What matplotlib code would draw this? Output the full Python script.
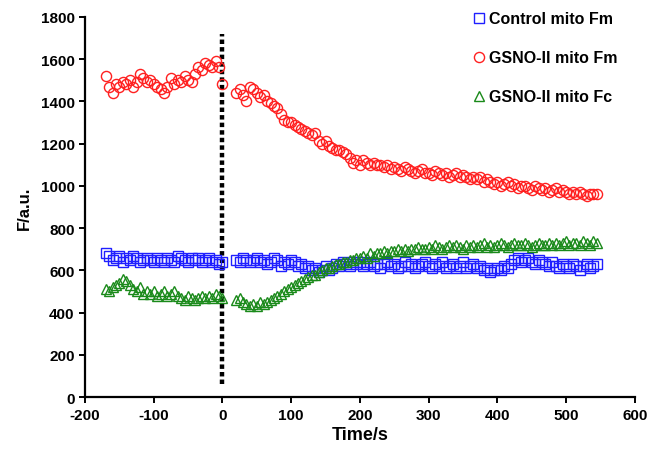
import numpy as np
import matplotlib
matplotlib.use('Agg')
import matplotlib.pyplot as plt

plt.rcParams['font.family'] = ['Liberation Sans', 'DejaVu Sans']
plt.rcParams['font.weight'] = 'bold'
plt.rcParams['axes.unicode_minus'] = False

# time (s), before and after addition at t=0
time_pre = [-170, -165, -160, -155, -150, -145, -140, -135, -130, -125,
            -120, -115, -110, -105, -100, -95, -90, -85, -80, -75,
            -70, -65, -60, -55, -50, -45, -40, -35, -30, -25,
            -20, -15, -10, -5, 0]
time_post = [20, 25, 30, 35, 40, 45, 50, 55, 60, 65,
             70, 75, 80, 85, 90, 95, 100, 105, 110, 115,
             120, 125, 130, 135, 140, 145, 150, 155, 160, 165,
             170, 175, 180, 185, 190, 195, 200, 205, 210, 215,
             220, 225, 230, 235, 240, 245, 250, 255, 260, 265,
             270, 275, 280, 285, 290, 295, 300, 305, 310, 315,
             320, 325, 330, 335, 340, 345, 350, 355, 360, 365,
             370, 375, 380, 385, 390, 395, 400, 405, 410, 415,
             420, 425, 430, 435, 440, 445, 450, 455, 460, 465,
             470, 475, 480, 485, 490, 495, 500, 505, 510, 515,
             520, 525, 530, 535, 540, 545]

ctrl_pre = [680, 670, 650, 660, 670, 640, 660, 650, 670, 660,
            640, 650, 660, 650, 640, 660, 650, 640, 660, 650,
            640, 670, 660, 650, 640, 660, 650, 660, 640, 650,
            660, 640, 650, 630, 640]
ctrl_post = [650, 640, 660, 650, 640, 650, 660, 640, 650, 630,
             640, 660, 650, 620, 640, 630, 650, 640, 620, 630,
             610, 620, 600, 610, 590, 600, 620, 600, 610, 630,
             620, 640, 630, 620, 640, 630, 640, 620, 630, 640,
             620, 630, 610, 630, 640, 620, 630, 610, 620, 640,
             620, 630, 610, 620, 630, 640, 620, 610, 630, 620,
             640, 610, 620, 630, 610, 620, 640, 610, 620, 630,
             610, 620, 600, 610, 590, 600, 610, 600, 620, 610,
             630, 650, 660, 640, 650, 660, 640, 630, 650, 640,
             630, 620, 640, 620, 610, 630, 620, 610, 630, 620,
             600, 620, 630, 610, 620, 630]

fm_pre = [1520, 1470, 1440, 1480, 1470, 1490, 1480, 1500, 1470, 1490,
          1530, 1510, 1490, 1500, 1480, 1470, 1460, 1440, 1470, 1510,
          1480, 1500, 1490, 1520, 1500, 1490, 1530, 1560, 1550, 1580,
          1570, 1560, 1590, 1560, 1480]
fm_post = [1440, 1460, 1430, 1400, 1470, 1460, 1440, 1420, 1430, 1400,
           1390, 1380, 1370, 1340, 1310, 1300, 1300, 1290, 1280, 1270,
           1260, 1250, 1240, 1250, 1210, 1200, 1210, 1190, 1180, 1170,
           1170, 1160, 1150, 1130, 1110, 1120, 1100, 1120, 1110, 1100,
           1110, 1100, 1100, 1090, 1100, 1080, 1090, 1080, 1070, 1090,
           1080, 1070, 1060, 1070, 1080, 1060, 1060, 1050, 1070, 1060,
           1050, 1060, 1040, 1050, 1060, 1040, 1050, 1040, 1030, 1040,
           1030, 1040, 1020, 1030, 1020, 1010, 1020, 1000, 1010, 1020,
           1000, 1010, 990, 1000, 1000, 990, 980, 1000, 990, 980,
           990, 970, 980, 990, 970, 980, 970, 960, 970, 960,
           970, 960, 950, 960, 960, 960]

fc_pre = [510, 500, 520, 530, 540, 560, 550, 530, 510, 500,
          520, 490, 500, 490, 500, 480, 490, 500, 480, 490,
          500, 480, 470, 460, 480, 470, 460, 470, 480, 470,
          480, 470, 490, 480, 470]
fc_post = [460, 470, 450, 440, 430, 440, 430, 450, 440, 450,
           460, 470, 480, 490, 500, 510, 520, 530, 540, 550,
           560, 570, 580, 580, 590, 600, 610, 610, 620, 630,
           630, 640, 640, 650, 650, 660, 660, 670, 660, 680,
           670, 680, 680, 690, 680, 690, 690, 700, 690, 700,
           690, 700, 700, 710, 700, 700, 710, 700, 720, 710,
           700, 710, 720, 710, 720, 710, 700, 720, 710, 720,
           710, 720, 730, 710, 720, 710, 720, 730, 720, 710,
           720, 730, 720, 720, 730, 720, 710, 720, 730, 720,
           720, 730, 720, 730, 720, 730, 740, 720, 730, 730,
           720, 740, 730, 720, 740, 730]

labels = ['Control mito Fm', 'GSNO-II mito Fm', 'GSNO-II mito Fc']

t = time_pre + time_post

fig = plt.figure(figsize=(6.49, 4.56), dpi=100)
ax = fig.add_axes([0.131, 0.127, 0.847, 0.834])

ax.axvline(0, ymin=60/1800, ymax=1720/1800, color='black', lw=3.2,
           dashes=(1.0, 0.7), zorder=1)

mk = dict(linestyle='none', markerfacecolor='none', markersize=7.3, markeredgewidth=1.0)
ax.plot(t, ctrl_pre + ctrl_post, marker='s', color='#1f1fff', label=labels[0], **mk)
ax.plot(t, fm_pre + fm_post, marker='o', color='#ff2020', label=labels[1], **mk)
ax.plot(t, fc_pre + fc_post, marker='^', color='#1a8a1a', label=labels[2], **mk)

ax.set_xlim(-200, 600)
ax.set_ylim(0, 1800)
ax.set_xticks(range(-200, 601, 100))
ax.set_yticks(range(0, 1801, 200))
ax.spines['top'].set_visible(False)
ax.spines['right'].set_visible(False)
ax.spines['left'].set_linewidth(1.6)
ax.spines['bottom'].set_linewidth(1.6)
ax.tick_params(direction='out', width=1.4, length=4, labelsize=11)
for lab in ax.get_xticklabels() + ax.get_yticklabels():
    lab.set_fontweight('bold')

ax.set_xlabel('Time/s', fontsize=13, fontweight='bold', labelpad=3)
ax.set_ylabel('F/a.u.', fontsize=12, fontweight='bold', labelpad=6)

leg = ax.legend(loc='upper left', bbox_to_anchor=(457/649, 1 + 2/456),
                bbox_transform=fig.transFigure, frameon=False,
                handletextpad=0.1, handlelength=1.0, labelspacing=1.5,
                prop={'weight': 'bold', 'size': 11.5})

fig.savefig('out.png', dpi=100)
